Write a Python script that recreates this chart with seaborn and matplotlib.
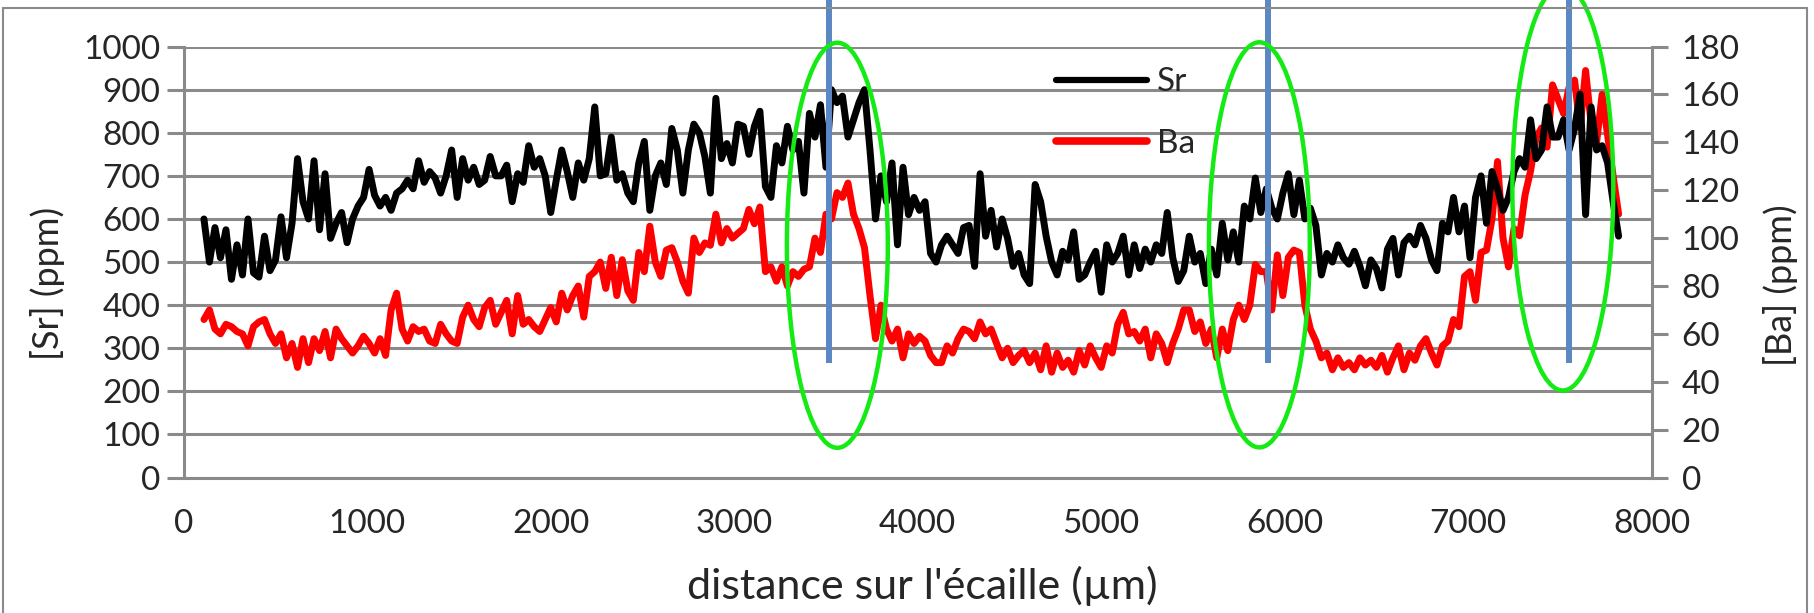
import numpy as np
import pandas as pd
import matplotlib
matplotlib.use("Agg")
import matplotlib.pyplot as plt
from matplotlib.patches import Ellipse, Rectangle
from matplotlib.lines import Line2D
import seaborn as sns

sns.set_style("white")
plt.rcParams["font.family"] = ["Lato", "DejaVu Sans"]

# profil laser : un point tous les 30 µm à partir de 110 µm
DIST_START = 110
DIST_STEP = 30

SR = [
    600, 500, 580, 510, 575, 460, 540, 470, 600, 475, 465, 560, 480, 505, 605, 510, 590, 740, 640, 600,
    735, 575, 705, 555, 590, 615, 545, 600, 630, 650, 715, 655, 630, 650, 620, 660, 670, 690, 670, 735,
    685, 710, 695, 660,
    700, 760, 650, 740, 690, 720, 680, 690, 745, 700, 700, 725, 640, 705, 685, 770, 720, 740, 700, 615,
    690, 760, 710, 650, 730, 690, 740, 860, 700, 705, 790, 690, 705, 660, 640, 730, 780, 620, 700, 730,
    680, 810, 760, 660, 760,
    820, 800, 745, 660, 880, 740, 775, 730, 820, 815, 750, 815, 850, 675, 650, 770, 730, 815, 760, 780,
    660, 845, 790, 865, 720, 900, 870, 885, 790, 830, 870, 900, 760, 600, 700, 640, 730, 540, 720, 610,
    650, 620, 640, 520, 500,
    540, 560, 540, 520, 580, 585, 490, 705, 560, 620, 535, 600, 555, 490, 520, 470, 450, 680, 640, 560,
    500, 470, 525, 505, 570, 460, 470, 500, 525, 430, 540, 500, 520, 560, 470, 540, 485, 530, 500, 540,
    520, 615, 510, 455,
    480, 560, 500, 520, 450, 530, 470, 590, 505, 570, 500, 630, 600, 695, 615, 670, 625, 600, 660, 705,
    610, 690, 600, 625, 585, 470, 520, 500, 540, 510, 495, 525, 490, 445, 505, 485, 440, 530, 555, 470,
    545, 560, 540, 585, 555,
    505, 480, 590, 570, 650, 570, 630, 510, 650, 700, 590, 710, 670, 620, 650, 710, 740, 720, 830, 740,
    760, 860, 790, 790, 830, 760, 810, 890, 610, 860, 760, 770, 730, 640, 560,
]

BA = [
    66, 70, 62, 60, 64, 63, 61, 60, 55, 63, 65, 66, 60, 56, 60, 50, 56, 46, 58, 48,
    58, 53, 61, 50, 62, 58, 55, 52, 55, 59, 56, 52, 58, 51, 70, 77, 62, 57, 63, 61,
    62, 57, 56, 64,
    60, 57, 56, 67, 72, 66, 63, 71, 74, 64, 69, 74, 60, 76, 64, 66, 63, 61, 66, 71,
    65, 77, 70, 76, 80, 67, 84, 86, 90, 79, 92, 76, 91, 78, 74, 94, 86, 105, 90, 84,
    95, 96, 90, 82, 77,
    100, 94, 98, 97, 110, 98, 104, 100, 102, 104, 112, 106, 113, 86, 88, 82, 88, 80, 86, 84,
    87, 88, 100, 94, 110, 108, 119, 117, 123, 110, 104, 96, 76, 58, 72, 62, 57, 62, 50, 60,
    56, 59, 57, 51, 48,
    48, 55, 52, 58, 62, 61, 58, 65, 60, 62, 56, 50, 54, 48, 51, 53, 48, 52, 45, 55,
    44, 52, 46, 49, 44, 53, 47, 55, 50, 46, 55, 52, 64, 69, 60, 61, 57, 62, 50, 60,
    56, 48, 56, 62,
    70, 70, 61, 65, 56, 62, 50, 62, 53, 66, 72, 66, 72, 89, 86, 86, 70, 93, 76, 92,
    95, 94, 72, 62, 57, 50, 52, 45, 50, 46, 48, 45, 50, 47, 49, 46, 51, 44, 50, 55,
    45, 52, 49, 55, 58,
    52, 47, 55, 57, 66, 63, 84, 86, 74, 94, 95, 108, 132, 100, 88, 104, 101, 118, 128, 142,
    146, 138, 164, 158, 152, 163, 166, 146, 170, 148, 140, 160, 143, 126, 110,
]

SR_TICKS = list(range(0, 1001, 100))
BA_TICKS = list(range(0, 181, 20))
DIST_TICKS = list(range(0, 8001, 1000))

# zones entourées (ellipses vertes) et repères (traits bleus)
ZONE_X = [3562, 5862, 7516]
ZONE_SR = [539, 540, 672]
ZONE_W = 550
ZONE_H = 940
MARK_X = [3517, 5911, 7550]
MARK_SR_LOW = 265
MARK_SR_HIGH = 1110

GRAY = "#8a8a8a"
GREEN = "#14ea14"
BLUE = "#5b88c2"
FS = 24
FS_LAB = 26

df = pd.DataFrame({"distance": DIST_START + DIST_STEP * np.arange(len(SR)),
                   "Sr": SR, "Ba": BA})

fig = plt.figure(figsize=(18.14, 6.13), dpi=100)
rect = [0.1013, 0.221, 0.8092, 0.703]
ax = fig.add_axes(rect)
ax2 = ax.twinx()
ax3 = fig.add_axes(rect, sharex=ax, sharey=ax)

# axe Sr (gauche) + quadrillage
ax.set_xlim(0, 8000)
ax.set_ylim(0, 1000)
ax.set_xticks(DIST_TICKS)
ax.set_yticks(SR_TICKS)
ax.yaxis.grid(True, color=GRAY, lw=2.2)
ax.xaxis.grid(False)
for s in ["top", "right"]:
    ax.spines[s].set_visible(False)
for s in ["left", "bottom"]:
    ax.spines[s].set_color(GRAY)
    ax.spines[s].set_linewidth(2.2)
ax.tick_params(axis="y", length=12, width=2.2, color=GRAY, pad=5, labelsize=FS)
ax.tick_params(axis="x", length=12, width=2.2, color=GRAY, pad=11, labelsize=FS)
ax.set_ylabel("[Sr] (ppm)", fontsize=FS_LAB)
ax.set_xlabel("distance sur l'écaille (µm)", fontsize=31)
ax.yaxis.set_label_coords(-0.081, 0.45)
ax.xaxis.set_label_coords(0.503, -0.205)

# axe Ba (droite)
sns.lineplot(data=df, x="distance", y="Ba", ax=ax2, color="#ff0000")
for ln in ax2.get_lines():
    ln.set_linewidth(5.0)
ax2.set_ylim(0, 180)
ax2.set_yticks(BA_TICKS)
ax2.patch.set_visible(False)
for s in ["top", "left", "bottom"]:
    ax2.spines[s].set_visible(False)
ax2.spines["right"].set_color(GRAY)
ax2.spines["right"].set_linewidth(2.2)
ax2.tick_params(axis="y", length=11.5, width=2.2, color=GRAY, pad=10, labelsize=FS)
ax2.set_ylabel("[Ba] (ppm)", fontsize=FS_LAB, rotation=90)
ax2.yaxis.set_label_coords(1.076, 0.446)

# Sr par-dessus
sns.lineplot(data=df, x="distance", y="Sr", ax=ax3, color="black")
for ln in ax3.get_lines():
    ln.set_linewidth(5.0)
ax3.patch.set_visible(False)
ax3.set_axis_off()

ax3.vlines(MARK_X, MARK_SR_LOW, MARK_SR_HIGH, color=BLUE, lw=4.3,
           clip_on=False, zorder=3)
for cx, cy in zip(ZONE_X, ZONE_SR):
    ax3.add_patch(Ellipse((cx, cy), ZONE_W, ZONE_H, fill=False, ec=GREEN,
                          lw=3.2, clip_on=False, zorder=4))

handles = [Line2D([], [], color="black", lw=4.5),
           Line2D([], [], color="#ff0000", lw=5.5)]
ax3.legend(handles, ["Sr", "Ba"], loc="upper left", bbox_to_anchor=(0.594, 0.952),
           frameon=False, handlelength=2.75, handletextpad=0.3, labelspacing=0.94,
           borderpad=0, borderaxespad=0, fontsize=FS)

fig.add_artist(Rectangle((0.0017, -0.1), 0.9945, 1.087, transform=fig.transFigure,
                         fill=False, ec=GRAY, lw=1.5))

fig.savefig("out.png", dpi=100)
